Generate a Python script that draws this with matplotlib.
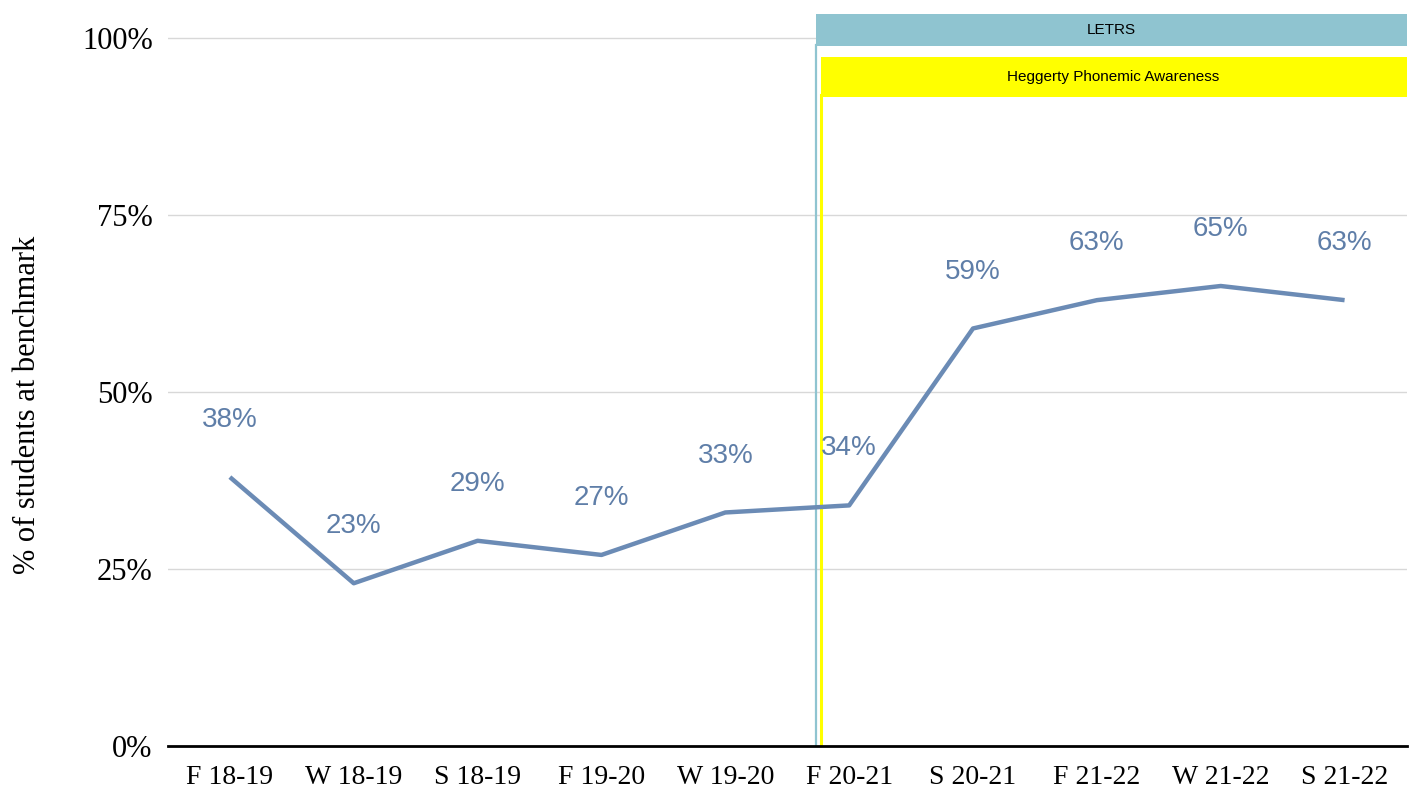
import matplotlib.pyplot as plt
from matplotlib.patches import Rectangle

# data
terms = ["F 18-19", "W 18-19", "S 18-19", "F 19-20", "W 19-20",
         "F 20-21", "S 20-21", "F 21-22", "W 21-22", "S 21-22"]
pct_at_benchmark = [38, 23, 29, 27, 33, 34, 59, 63, 65, 63]
y_ticks = [0, 25, 50, 75, 100]
y_tick_labels = ["0%", "25%", "50%", "75%", "100%"]

# interventions start just before F 20-21
letrs_start = 4.73
heggerty_start = 4.77

line_color = "#6b8bb5"
label_color = "#5f7ea8"
letrs_color = "#8fc4d0"
heggerty_color = "#ffff00"


def main():
    fig = plt.figure(figsize=(14.15, 7.99), dpi=100)
    ax = fig.add_axes([0.1187, 0.0663, 0.8753, 0.9212])

    x = list(range(len(terms)))
    ax.plot(x, pct_at_benchmark, color=line_color, linewidth=3.2,
            solid_capstyle="butt", zorder=3)
    for xi, v in zip(x, pct_at_benchmark):
        ax.annotate(f"{v}%", (xi, v), xytext=(0, 41), textcoords="offset points",
                    ha="center", va="center", fontsize=20, color=label_color,
                    family="Liberation Sans", zorder=4)

    ax.set_xlim(-0.5, len(terms) - 0.5)
    ax.set_ylim(0, 104)
    ax.set_xticks(x)
    ax.set_xticklabels(terms, family="Liberation Serif", fontsize=20)
    ax.set_yticks(y_ticks)
    ax.set_yticklabels(y_tick_labels, family="Liberation Serif", fontsize=22)
    ax.tick_params(axis="x", length=0, pad=14)
    ax.tick_params(axis="y", length=0, pad=11)
    ax.set_ylabel("% of students at benchmark", family="Liberation Serif",
                  fontsize=22)
    ax.yaxis.set_label_coords(-0.102, 0.463)

    for t in y_ticks[1:]:
        ax.axhline(t, color="#d8d8d8", linewidth=1, zorder=1)

    for side in ["top", "right", "left"]:
        ax.spines[side].set_visible(False)
    ax.spines["bottom"].set_linewidth(2)
    ax.spines["bottom"].set_color("black")

    right = len(terms) - 0.5

    # LETRS banner and start line
    ax.add_patch(Rectangle((letrs_start, 98.9), right - letrs_start, 4.6,
                           facecolor=letrs_color, edgecolor="none", zorder=2))
    ax.text((letrs_start + right) / 2, 101.2, "LETRS", ha="center", va="center",
            fontsize=11, family="Liberation Sans", zorder=5)
    ax.plot([letrs_start, letrs_start], [0, 99], color=letrs_color,
            linewidth=1.6, zorder=2)

    # Heggerty banner and start line
    ax.add_patch(Rectangle((heggerty_start, 91.7), right - heggerty_start, 5.6,
                           facecolor=heggerty_color, edgecolor="none", zorder=2))
    ax.text((heggerty_start + right) / 2, 94.5, "Heggerty Phonemic Awareness",
            ha="center", va="center", fontsize=11, family="Liberation Sans", zorder=5)
    ax.plot([heggerty_start, heggerty_start], [0, 92], color=heggerty_color,
            linewidth=2.2, zorder=2)

    fig.savefig("out.png", dpi=100)
    plt.close(fig)


if __name__ == "__main__":
    main()
